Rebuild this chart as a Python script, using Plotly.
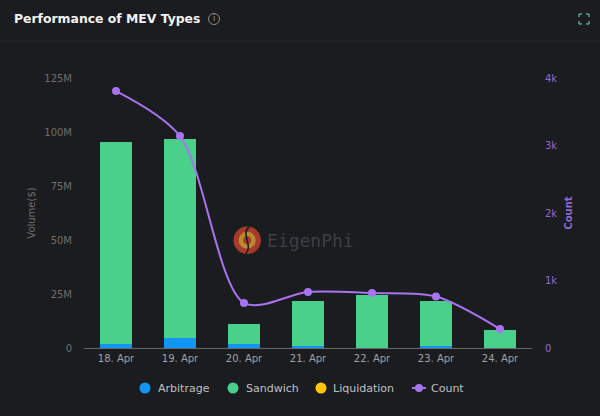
import plotly.graph_objects as go

dates = ["18. Apr", "19. Apr", "20. Apr", "21. Apr", "22. Apr", "23. Apr", "24. Apr"]
arbitrage = [1.9e6, 4.6e6, 2.0e6, 1.0e6, 0.2e6, 0.8e6, 0.1e6]
sandwich = [93.5e6, 92.2e6, 9.3e6, 20.8e6, 24.3e6, 21.0e6, 8.2e6]
liquidation = [0, 0, 0, 0, 0, 0, 0]
count = [3807, 3140, 667, 830, 815, 763, 281]

volume_ticks = [0, 25e6, 50e6, 75e6, 100e6, 125e6]
volume_labels = ["0", "25M", "50M", "75M", "100M", "125M"]
count_ticks = [0, 1000, 2000, 3000, 4000]
count_labels = ["0", "1k", "2k", "3k", "4k"]

BG = "#1a1c20"
BLUE = "#1296f5"
GREEN = "#4ad08a"
YELLOW = "#ffc60a"
PURPLE = "#a873ee"
FONT = "DejaVu Sans"


def px(x):
    return (x - 84) / 448


def py(y):
    return (348 - y) / 270


def circle(cx, cy, r, fill, line=None):
    return dict(type="circle", xref="paper", yref="paper", x0=px(cx - r), x1=px(cx + r),
                y0=py(cy + r), y1=py(cy - r), fillcolor=fill,
                line=dict(color=line or fill, width=1 if line else 0))


fig = go.Figure()
for name, vals, col in [("Arbitrage", arbitrage, BLUE), ("Sandwich", sandwich, GREEN), ("Liquidation", liquidation, YELLOW)]:
    fig.add_bar(x=dates, y=vals, name=name, marker=dict(color=col, line=dict(width=0)),
                showlegend=False, yaxis="y", hoverinfo="skip")
fig.add_scatter(x=dates, y=count, name="Count", mode="lines+markers", yaxis="y2", showlegend=False,
                line=dict(color=PURPLE, width=2, shape="spline", smoothing=0.85),
                marker=dict(color=PURPLE, size=8))

shapes = [
    dict(type="line", xref="paper", yref="paper", x0=px(0), x1=px(600), y0=py(41), y1=py(41),
         line=dict(color="#24262b", width=1)),
    circle(214, 19, 5.5, "rgba(0,0,0,0)", "#8a8a8a"),
    circle(247.2, 240.2, 13.7, "#a83a2c"),
    circle(247.2, 240.2, 8.5, "#b98a30"),
    circle(247.2, 240.2, 4, "#a83a2c"),
    dict(type="path", xref="paper", yref="paper", line=dict(color=BG, width=1.6),
         path=(f"M {px(249)} {py(227)} C {px(240)} {py(234)}, {px(254)} {py(246)}, {px(245.5)} {py(254)}")),
    # legend markers
    circle(145, 388, 5.5, BLUE),
    circle(233, 388, 5.5, GREEN),
    circle(321, 388, 5.5, YELLOW),
    dict(type="line", xref="paper", yref="paper", x0=px(412), x1=px(426), y0=py(388), y1=py(388),
         line=dict(color=PURPLE, width=2)),
    circle(419, 388, 4, PURPLE),
]
for x0, x1, y0, y1 in [(579, 582, 14, 14), (579, 579, 14, 17), (586, 589, 14, 14), (589, 589, 14, 17),
                       (579, 582, 24, 24), (579, 579, 21, 24), (586, 589, 24, 24), (589, 589, 21, 24)]:
    shapes.append(dict(type="line", xref="paper", yref="paper", x0=px(x0), x1=px(x1),
                       y0=py(y0), y1=py(y1), line=dict(color="#559f8a", width=1.5)))

annotations = [
    dict(text="<b>Performance of MEV Types</b>", xref="paper", yref="paper", x=px(11.5), y=py(19),
         xanchor="left", yanchor="middle", showarrow=False, font=dict(family=FONT, size=12.4, color="#f2f2f2")),
    dict(text="i", xref="paper", yref="paper", x=px(214), y=py(19), xanchor="center", yanchor="middle",
         showarrow=False, font=dict(family=FONT, size=8, color="#9a9a9a")),
    dict(text="EigenPhi", xref="paper", yref="paper", x=px(265), y=py(241), xanchor="left", yanchor="middle",
         showarrow=False, font=dict(family="DejaVu Sans Mono", size=18, color="#3d3f44")),
]
for name, lx in [("Arbitrage", 155.5), ("Sandwich", 243.5), ("Liquidation", 330.5), ("Count", 428.5)]:
    annotations.append(dict(text=name, xref="paper", yref="paper", x=px(lx), y=py(388), xanchor="left",
                            yanchor="middle", showarrow=False, font=dict(family=FONT, size=11, color="#c0c0c0")))

fig.update_layout(
    width=600, height=416, paper_bgcolor=BG, plot_bgcolor=BG, barmode="stack", bargap=0.515,
    margin=dict(l=84, r=68, t=78, b=68, autoexpand=False),
    font=dict(family=FONT, size=10, color="#8c8c8c"),
    showlegend=False,
    xaxis=dict(showgrid=False, showline=True, linecolor="#6a6a6a", linewidth=1, ticks="", zeroline=False,
               tickfont=dict(size=10, color="#a0a0a0"), ticklabelstandoff=1, fixedrange=True),
    yaxis=dict(range=[0, 125e6], tickvals=volume_ticks, ticktext=volume_labels, showgrid=False, zeroline=False,
               tickfont=dict(size=10, color="#6e6e6e"), ticklabelstandoff=11,
               title=dict(text="Volume($)", font=dict(size=10, color="#6e6e6e"), standoff=6)),
    yaxis2=dict(range=[0, 4000], tickvals=count_ticks, ticktext=count_labels, overlaying="y", side="right",
                showgrid=False, zeroline=False, tickfont=dict(size=10, color="#8f68d0"), ticklabelstandoff=12,
                title=dict(text="<b>Count</b>", font=dict(size=10, color="#8f68d0"), standoff=8)),
    shapes=shapes, annotations=annotations,
)
fig.write_html("out.html", post_script="document.body.style.margin='0';document.body.style.background='#1a1c20';",
               config=dict(displayModeBar=False))
